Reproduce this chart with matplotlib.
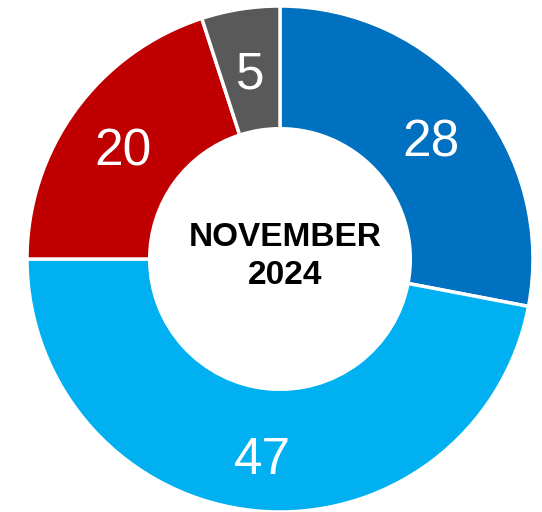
import matplotlib
matplotlib.use("Agg")
import matplotlib.pyplot as plt

categories = ["A", "B", "C", "D"]
values = [28, 47, 20, 5]
colors = ["#0070C0", "#00B0F0", "#C00000", "#595959"]
center_lines = ["NOVEMBER", "2024"]

W, H = 542, 512
fig = plt.figure(figsize=(W / 100, H / 100), dpi=100)
ax = fig.add_axes([0, 0, 1, 1])
ax.set_xlim(0, W)
ax.set_ylim(0, H)
ax.set_aspect("equal")
ax.axis("off")

cx, cy, R = 280, H - 259, 253
wedges, texts = ax.pie(
    values, colors=colors, startangle=90, counterclock=False,
    center=(cx, cy), radius=R,
    labels=[str(v) for v in values], labeldistance=0.77,
    wedgeprops=dict(width=R * 0.485, edgecolor="white", linewidth=2.5),
    textprops=dict(color="white", fontsize=37, family="Liberation Sans",
                   ha="center", va="center"),
)
for t in texts:
    x, y = t.get_position()
    t.set_position((x + 1, y - 8))
ax.set_xlim(0, W)
ax.set_ylim(0, H)

ax.text(cx + 5, H - 237, center_lines[0], ha="center", va="center",
        fontsize=24, fontweight="bold", family="Liberation Sans", color="black")
ax.text(cx + 5, H - 275, center_lines[1], ha="center", va="center",
        fontsize=24, fontweight="bold", family="Liberation Sans", color="black")

fig.savefig("out.png", dpi=100)
